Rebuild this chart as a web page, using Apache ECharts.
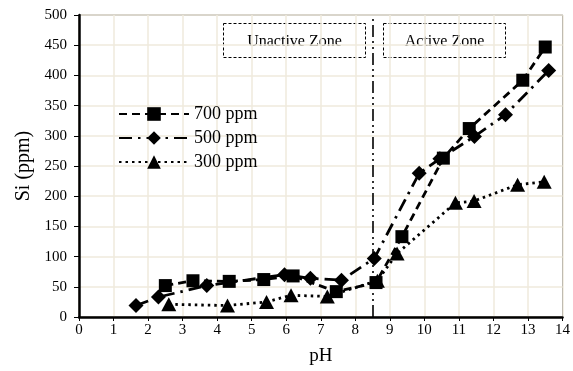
<!DOCTYPE html>
<html>
<head>
<meta charset="utf-8">
<script src="https://cdn.jsdelivr.net/npm/echarts@6/dist/echarts.min.js"></script>
<style>html,body{margin:0;padding:0;background:#fff}#c{width:573px;height:371px}</style>
</head>
<body>
<div id="c"></div>
<script>
// Data
var seriesNames = ['700 ppm', '500 ppm', '300 ppm'];
var pH700 = [2.5, 3.3, 4.35, 5.35, 6.2, 7.45, 8.6, 9.35, 10.55, 11.3, 12.85, 13.5];
var si700 = [52, 60, 59, 62, 68, 42, 57, 133, 263, 312, 392, 447];
var pH500 = [1.65, 2.3, 3.7, 5.95, 6.7, 7.6, 8.55, 9.85, 10.45, 11.45, 12.35, 13.6];
var si500 = [19, 33, 52, 70, 64, 61, 97, 238, 262, 299, 335, 408];
var pH300 = [2.6, 4.3, 5.43, 6.14, 7.19, 8.64, 9.21, 10.9, 11.44, 12.7, 13.47];
var si300 = [21, 19, 25, 36, 34, 60, 105, 189, 192, 219, 224];
var boundaryPH = 8.5;
var zoneLabels = ['Unactive Zone', 'Active Zone'];
var xName = 'pH', yName = 'Si (ppm)';

function pairs(x, y) { return x.map(function (v, i) { return [v, y[i]]; }); }

var FONT = '"Liberation Serif", "Times New Roman", serif';
var chart = echarts.init(document.getElementById('c'), null, { renderer: 'canvas' });
var lw = 2.8;
chart.setOption({
  animation: false,
  backgroundColor: '#fff',
  textStyle: { fontFamily: FONT, color: '#000' },
  grid: { left: 79, right: 9, top: 15, bottom: 54, show: true, borderColor: '#333', borderWidth: 1 },
  legend: {
    left: 113, top: 100, orient: 'vertical', itemWidth: 70, itemHeight: 17, itemGap: 6,
    textStyle: { fontFamily: FONT, fontSize: 18, color: '#000' },
    data: seriesNames
  },
  xAxis: {
    type: 'value', min: 0, max: 14, interval: 1,
    name: xName, nameLocation: 'middle', nameGap: 30,
    nameTextStyle: { fontFamily: FONT, fontSize: 19, color: '#000' },
    axisLine: { onZero: false, lineStyle: { color: '#000', width: 2.5 } },
    axisTick: { show: true, length: 4, lineStyle: { color: '#000', width: 1 } },
    axisLabel: { fontFamily: FONT, fontSize: 15, color: '#000', margin: 6 },
    splitLine: { show: true, lineStyle: { color: '#efeadc', width: 1.5 } }
  },
  yAxis: {
    type: 'value', min: 0, max: 500, interval: 50,
    name: yName, nameLocation: 'middle', nameGap: 42,
    nameTextStyle: { fontFamily: FONT, fontSize: 20, color: '#000' },
    axisLine: { show: true, onZero: false, lineStyle: { color: '#000', width: 2.5 } },
    axisTick: { show: true, length: 5, lineStyle: { color: '#000', width: 1 } },
    axisLabel: { fontFamily: FONT, fontSize: 15, color: '#000', margin: 12 },
    splitLine: { show: true, lineStyle: { color: '#efeadc', width: 1.5 } }
  },
  series: [
    {
      name: seriesNames[0], type: 'line', data: pairs(pH700, si700),
      symbol: 'rect', symbolSize: 13, itemStyle: { color: '#000' },
      lineStyle: { color: '#000', width: lw, type: [8, 5] },
      markLine: {
        silent: true, symbol: 'none', label: { show: false },
        lineStyle: { color: '#000', width: 1.6, type: [12, 4, 2, 4, 2, 4] },
        data: [{ xAxis: boundaryPH }]
      }
    },
    {
      name: seriesNames[1], type: 'line', data: pairs(pH500, si500),
      symbol: 'diamond', symbolSize: [15, 15], itemStyle: { color: '#000' },
      lineStyle: { color: '#000', width: lw, type: [13, 6, 2.5, 6] }
    },
    {
      name: seriesNames[2], type: 'line', data: pairs(pH300, si300),
      symbol: 'triangle', symbolSize: [15, 14], itemStyle: { color: '#000' },
      lineStyle: { color: '#000', width: lw, type: [2.5, 4] }
    }
  ],
  graphic: [
    { type: 'rect', shape: { x: 223.5, y: 23.5, width: 142, height: 34 },
      style: { fill: '#fff', stroke: '#000', lineWidth: 1, lineDash: [3, 2] } },
    { type: 'text', x: 294.5, y: 42, style: { text: zoneLabels[0], font: '16px ' + FONT, fill: '#000', align: 'center', verticalAlign: 'middle' } },
    { type: 'rect', shape: { x: 383.5, y: 23.5, width: 122, height: 34 },
      style: { fill: '#fff', stroke: '#000', lineWidth: 1, lineDash: [3, 2] } },
    { type: 'text', x: 444.5, y: 42, style: { text: zoneLabels[1], font: '16px ' + FONT, fill: '#000', align: 'center', verticalAlign: 'middle' } }
  ]
});
</script>
</body>
</html>
